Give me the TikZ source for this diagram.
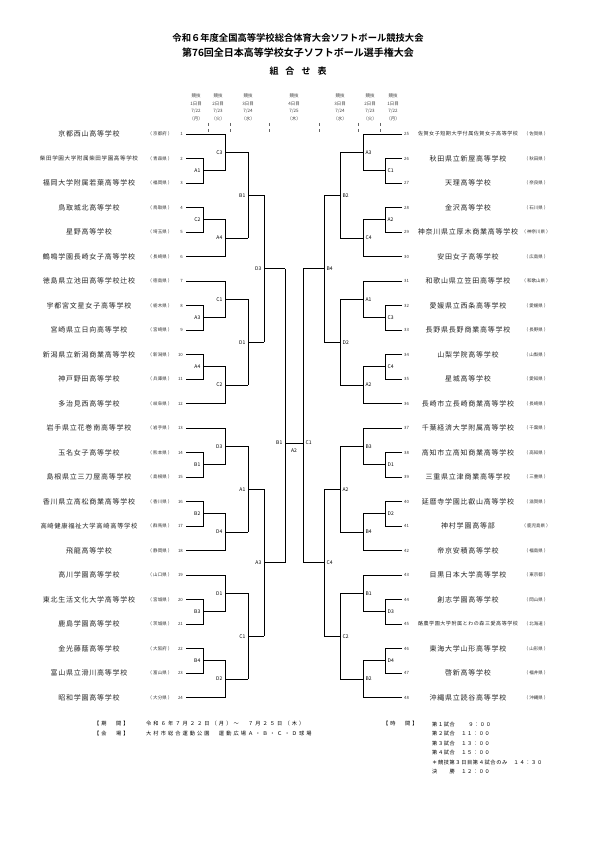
\documentclass[tikz,border=0pt]{standalone}
\usepackage{fontspec}
\setmainfont{Noto Sans CJK JP}[BoldFont={Noto Sans CJK JP Bold}]
\usetikzlibrary{calc}
\tikzset{
  tname/.style={font={\fontsize{7}{8}\selectfont\addfontfeature{LetterSpace=11}}, inner sep=0pt, text=black!85},
  tpref/.style={font={\fontsize{4.5}{5}\selectfont}, inner sep=0pt, text=black!80},
  tnum/.style={font={\fontsize{4.3}{5}\selectfont}, inner sep=0pt, text=black!80},
  mlab/.style={font={\fontsize{5}{6}\selectfont}, inner sep=0pt},
  hd/.style={font={\fontsize{4.5}{5}\selectfont}, inner sep=0pt, text=black!75},
  br/.style={line width=0.6pt},
  ft/.style={font={\fontsize{5.2}{6}\selectfont\addfontfeature{LetterSpace=40}}, inner sep=0pt, anchor=west},
}
\begin{document}
\begin{tikzpicture}[x=1pt,y=-1pt]
\fill[white] (0,0) rectangle (596,842);
\useasboundingbox (0,0) rectangle (596,842);
% titles
\node[font={\bfseries\fontsize{9.3}{10}\selectfont}] (t1) at (298,38) {令和６年度全国高等学校総合体育大会ソフトボール競技大会};
\node[font={\bfseries\fontsize{10}{11}\selectfont}] (t2) at (298,53) {第76回全日本高等学校女子ソフトボール選手権大会};
\node[font={\bfseries\fontsize{9}{10}\selectfont}] (t3) at (298,71) {組\hspace{7pt}合\hspace{7pt}せ\hspace{7pt}表};
% headers
\foreach \x/\d/\dt/\w [count=\c] in {196/1/22/月,218/2/23/火,248/3/24/水,294/4/25/木,340/3/24/水,370/2/23/火,393/1/22/月}{
  \node[hd] (ha\c) at (\x,96) {競技};
  \node[hd] (hb\c) at (\x,103.5) {\d 日目};
  \node[hd] (hc\c) at (\x,111) {7/\dt};
  \node[hd] (hdd\c) at (\x,118.5) {（\w）};
}
\foreach \x in {208,230,269,319,358,380}
  \draw[black!60, dashed, line width=0.4pt] (\x,123) -- (\x,132);
% left teams
\foreach \i/\n/\p in {
 1/京都西山高等学校/京都府,
 2/\resizebox{98pt}{!}{柴田学園大学附属柴田学園高等学校}/青森県,
 3/福岡大学附属若葉高等学校/福岡県,
 4/鳥取城北高等学校/鳥取県,
 5/星野高等学校/埼玉県,
 6/鶴鳴学園長崎女子高等学校/長崎県,
 7/徳島県立池田高等学校辻校/徳島県,
 8/宇都宮文星女子高等学校/栃木県,
 9/宮崎県立日向高等学校/宮崎県,
 10/新潟県立新潟商業高等学校/新潟県,
 11/神戸野田高等学校/兵庫県,
 12/多治見西高等学校/岐阜県,
 13/岩手県立花巻南高等学校/岩手県,
 14/玉名女子高等学校/熊本県,
 15/島根県立三刀屋高等学校/島根県,
 16/香川県立高松商業高等学校/香川県,
 17/\resizebox{97pt}{!}{高崎健康福祉大学高崎高等学校}/群馬県,
 18/飛龍高等学校/静岡県,
 19/高川学園高等学校/山口県,
 20/東北生活文化大学高等学校/宮城県,
 21/鹿島学園高等学校/茨城県,
 22/金光藤蔭高等学校/大阪府,
 23/富山県立滑川高等学校/富山県,
 24/昭和学園高等学校/大分県}{
  \pgfmathsetmacro\yy{134+(\i-1)*24.5}
  \node[tname] (ln\i) at (89,\yy) {\n};
  \node[tpref] (lp\i) at (160,\yy) {（ \p\ ）};
  \node[tnum,anchor=east] (lnum\i) at (183,\yy) {\i};
}
% right teams
\foreach \i/\n/\p in {
 25/\resizebox{100pt}{!}{佐賀女子短期大学付属佐賀女子高等学校}/佐賀県,
 26/秋田県立新屋高等学校/秋田県,
 27/天理高等学校/奈良県,
 28/金沢高等学校/石川県,
 29/神奈川県立厚木商業高等学校/神奈川県,
 30/安田女子高等学校/広島県,
 31/和歌山県立笠田高等学校/和歌山県,
 32/愛媛県立西条高等学校/愛媛県,
 33/長野県長野商業高等学校/長野県,
 34/山梨学院高等学校/山梨県,
 35/星城高等学校/愛知県,
 36/長崎市立長崎商業高等学校/長崎県,
 37/千葉経済大学附属高等学校/千葉県,
 38/高知市立高知商業高等学校/高知県,
 39/三重県立津商業高等学校/三重県,
 40/延暦寺学園比叡山高等学校/滋賀県,
 41/神村学園高等部/鹿児島県,
 42/帝京安積高等学校/福島県,
 43/目黒日本大学高等学校/東京都,
 44/創志学園高等学校/岡山県,
 45/\resizebox{100pt}{!}{酪農学園大学附属とわの森三愛高等学校}/北海道,
 46/東海大学山形高等学校/山形県,
 47/啓新高等学校/福井県,
 48/沖縄県立読谷高等学校/沖縄県}{
  \pgfmathsetmacro\yy{134+(\i-25)*24.5}
  \node[tname] (rn\i) at (468,\yy) {\n};
  \node[tpref] (rp\i) at (536,\yy) {（ \p\ ）};
  \node[tnum,anchor=west] (rnum\i) at (404,\yy) {\i};
}
% left bracket groups
\foreach \k/\la/\lb in {0/A1/C3,1/C2/A4,2/A3/C1,3/A4/C2,4/B1/D3,5/B2/D4,6/B3/D1,7/B4/D2}{
  \pgfmathsetmacro\ya{134+3*\k*24.5}
  \pgfmathsetmacro\yb{\ya+24.5}
  \pgfmathsetmacro\yc{\ya+49}
  \pgfmathtruncatemacro\odd{mod(\k,2)}
  \ifnum\odd=0
    \pgfmathsetmacro\ma{(\yb+\yc)/2}
    \pgfmathsetmacro\mb{(\ya+\ma)/2}
    \draw[br] (186,\ya) -- (225,\ya) -- (225,\ma) -- (203,\ma);
    \draw[br] (186,\yb) -- (203,\yb) -- (203,\yc) -- (186,\yc);
  \else
    \pgfmathsetmacro\ma{(\ya+\yb)/2}
    \pgfmathsetmacro\mb{(\ma+\yc)/2}
    \draw[br] (186,\yc) -- (225,\yc) -- (225,\ma) -- (203,\ma);
    \draw[br] (186,\ya) -- (203,\ya) -- (203,\yb) -- (186,\yb);
  \fi
  \node[mlab,anchor=east] at (200.5,\ma) {\la};
  \node[mlab,anchor=east] at (222.5,\mb) {\lb};
  \draw[br] (225,\mb) -- (248,\mb);
}
% right bracket groups
\foreach \k/\la/\lb in {0/C1/A3,1/A2/C4,2/C3/A1,3/C4/A2,4/D1/B3,5/D2/B4,6/D3/B1,7/D4/B2}{
  \pgfmathsetmacro\ya{134+3*\k*24.5}
  \pgfmathsetmacro\yb{\ya+24.5}
  \pgfmathsetmacro\yc{\ya+49}
  \pgfmathtruncatemacro\odd{mod(\k,2)}
  \ifnum\odd=0
    \pgfmathsetmacro\ma{(\yb+\yc)/2}
    \pgfmathsetmacro\mb{(\ya+\ma)/2}
    \draw[br] (402,\ya) -- (363,\ya) -- (363,\ma) -- (385,\ma);
    \draw[br] (402,\yb) -- (385,\yb) -- (385,\yc) -- (402,\yc);
  \else
    \pgfmathsetmacro\ma{(\ya+\yb)/2}
    \pgfmathsetmacro\mb{(\ma+\yc)/2}
    \draw[br] (402,\yc) -- (363,\yc) -- (363,\ma) -- (385,\ma);
    \draw[br] (402,\ya) -- (385,\ya) -- (385,\yb) -- (402,\yb);
  \fi
  \node[mlab,anchor=west] at (387.5,\ma) {\la};
  \node[mlab,anchor=west] at (365.5,\mb) {\lb};
  \draw[br] (363,\mb) -- (340,\mb);
}
% left day 3 and quarters
\draw[br] (248,152.375) -- (248,238.125);
\draw[br] (248,299.375) -- (248,385.125);
\draw[br] (248,446.375) -- (248,532.125);
\draw[br] (248,593.375) -- (248,679.125);
\node[mlab,anchor=east] at (245.5,195.25) {B1};
\node[mlab,anchor=east] at (245.5,342.25) {D1};
\node[mlab,anchor=east] at (245.5,489.25) {A1};
\node[mlab,anchor=east] at (245.5,636.25) {C1};
\draw[br] (248,195.25) -- (264,195.25);
\draw[br] (248,342.25) -- (264,342.25);
\draw[br] (248,489.25) -- (264,489.25);
\draw[br] (248,636.25) -- (264,636.25);
\draw[br] (264,195.25) -- (264,342.25);
\draw[br] (264,489.25) -- (264,636.25);
\node[mlab,anchor=east] at (261.5,268.75) {D3};
\node[mlab,anchor=east] at (261.5,562.75) {A3};
\draw[br] (264,268.75) -- (285,268.75);
\draw[br] (264,562.75) -- (285,562.75);
\draw[br] (285,268.75) -- (285,562.75);
\node[mlab,anchor=east] at (282.5,443) {B1};
% right day 3 and quarters
\draw[br] (340,152.375) -- (340,238.125);
\draw[br] (340,299.375) -- (340,385.125);
\draw[br] (340,446.375) -- (340,532.125);
\draw[br] (340,593.375) -- (340,679.125);
\node[mlab,anchor=west] at (342.5,195.25) {B2};
\node[mlab,anchor=west] at (342.5,342.25) {D2};
\node[mlab,anchor=west] at (342.5,489.25) {A2};
\node[mlab,anchor=west] at (342.5,636.25) {C2};
\draw[br] (340,195.25) -- (324,195.25);
\draw[br] (340,342.25) -- (324,342.25);
\draw[br] (340,489.25) -- (324,489.25);
\draw[br] (340,636.25) -- (324,636.25);
\draw[br] (324,195.25) -- (324,342.25);
\draw[br] (324,489.25) -- (324,636.25);
\node[mlab,anchor=west] at (326.5,268.75) {B4};
\node[mlab,anchor=west] at (326.5,562.75) {C4};
\draw[br] (324,268.75) -- (303,268.75);
\draw[br] (324,562.75) -- (303,562.75);
\draw[br] (303,268.75) -- (303,562.75);
\node[mlab,anchor=west] at (305.5,443) {C1};
% final
\draw[br] (285,443) -- (303,443);
\node[mlab] (fin) at (294,451) {A2};
% footer
\node[ft] (f1) at (94,724) {【期　間】};
\node[ft] (f2) at (146,724) {令和６年７月２２日（月）～　７月２５日（木）};
\node[ft] (f3) at (94,733.5) {【会　場】};
\node[ft] (f4) at (146,733.5) {大村市総合運動公園　運動広場Ａ・Ｂ・Ｃ・Ｄ球場};
\node[ft] (f5) at (383,724) {【時　間】};
\begin{scope}[every node/.style={font={\fontsize{5.2}{6}\selectfont\addfontfeature{LetterSpace=12}}, inner sep=0pt, anchor=west}]
\node (g1) at (432,724.5) {第１試合　　 ９：００};
\node (g2) at (432,734) {第２試合　１１：００};
\node (g3) at (432,743.5) {第３試合　１３：００};
\node (g4) at (432,753) {第４試合　１５：００};
\node (g5) at (432,762.5) {＊競技第３日目第４試合のみ　１４：３０};
\node (g6) at (432,772) {決　　勝　１２：００};
\end{scope}
\end{tikzpicture}
\end{document}
